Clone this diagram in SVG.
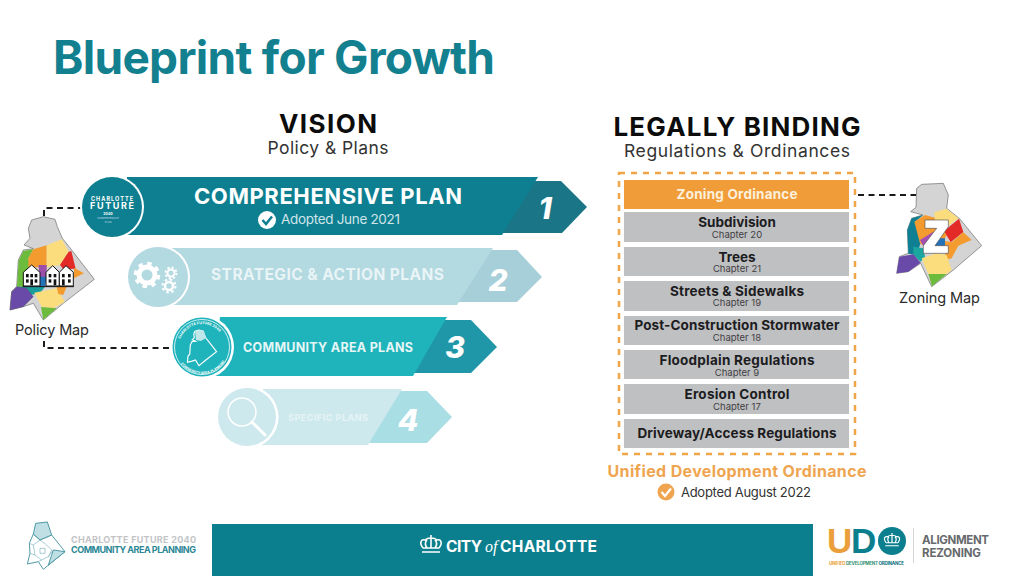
<svg xmlns="http://www.w3.org/2000/svg" width="1024" height="576" viewBox="0 0 1024 576">
<style>
text{font-family:Inter,"Open Sans","Liberation Sans",sans-serif}
.b{font-weight:700}
.m{text-anchor:middle}
.box{fill:#bfc0c2}
.bt{font-size:13.5px;font-weight:700;fill:#1c1c1e;text-anchor:middle}
.ch{font-size:9.5px;fill:#3f3f42;text-anchor:middle}
.num{font-size:30px;font-weight:800;font-style:italic;fill:#fff;text-anchor:middle}
.dash{fill:none;stroke:#1a1a1a;stroke-width:2;stroke-dasharray:6 4.5}
.o{stroke:#6a6a6a;stroke-width:2;stroke-linejoin:round}
.w{fill:#fff;text-anchor:middle;font-weight:700}
.win{fill:#111}
.logo{font-family:"Liberation Sans",sans-serif;font-weight:700;font-size:35px}
</style>
<defs>
<symbol id="crown" viewBox="0 0 24 20">
<path d="M4,13C0,8 2,4 6,5C7,4 10,3 12,3C14,3 17,4 18,5C22,4 24,8 20,13M4,13H20M3,17H21M8,13C6,10 6,7 8,5M16,13C18,10 18,7 16,5M12,13V3M12,3V0" fill="none" stroke="currentColor" stroke-width="1.6"/>
</symbol>
<path id="ringTop" d="M179,347a23,23 0 0 1 46,0"/>
<path id="ringBot" d="M175,347a27,27 0 0 0 54,0"/>
<path id="policyOutline" d="M95,150L130,140L165,148L172,170L187,205L215,240L283,328L190,400L130,450L100,400L70,410L30,420L35,365L50,350L55,270L70,240L100,236L72,225L90,205L85,175Z"/>
</defs>
<rect width="1024" height="576" fill="#fff"/>
<text id="title" x="53" y="74" class="b" font-size="46" fill="#13808f" textLength="442">Blueprint for Growth</text>

<g id="connectors">
<path class="dash" d="M44,216V208H82"/>
<path class="dash" d="M44,341V348H172"/>
<path class="dash" d="M858,195H916"/>
</g>

<g id="vision-heading">
<text x="328" y="133" class="b m" font-size="26" fill="#0c0c0c" textLength="98">VISION</text>
<text x="328" y="154" class="m" font-size="17.5" fill="#333" textLength="121">Policy &amp; Plans</text>
</g>

<g id="plan-1">
<polygon points="490,233 530,181 561,181 587,207 562,233" fill="#1a7686"/>
<polygon points="127,177 538,177 502,235 123,235" fill="#0e7f90"/>
<circle cx="112" cy="207" r="32" fill="#fff"/>
<circle cx="112" cy="207" r="30" fill="#0e7f90"/>
<text x="112" y="201" class="w" font-size="5.5" textLength="42">CHARLOTTE</text>
<text x="112" y="209" class="w" font-size="9" textLength="44">FUTURE</text>
<text x="108" y="215" class="w" font-size="3.5">2040</text>
<text x="108" y="219" class="m" font-size="2.5" fill="#cde">COMPREHENSIVE</text>
<text x="108" y="223" class="m" font-size="2.5" fill="#cde">PLAN</text>
<text x="328" y="204" class="w" font-size="22" textLength="268">COMPREHENSIVE PLAN</text>
<circle cx="267" cy="220" r="9" fill="#fff"/>
<path d="M262.500,220L266,224L272,216.500" fill="none" stroke="#0e7f90" stroke-width="2.500"/>
<text x="281" y="224" font-size="13.500" fill="#cfe5ea" textLength="119">Adopted June 2021</text>
<text x="545" y="219" class="num">1</text>
</g>

<g id="plan-2">
<polygon points="450,302 485,250 517,250 542,277 517,302" fill="#a7cfd9"/>
<polygon points="172,248 493,248 457,305 170,305" fill="#b3d9e1"/>
<circle cx="158" cy="277" r="32" fill="#fff"/>
<circle cx="158" cy="277" r="30" fill="#b3d9e1"/>
<g fill="none" stroke="#fff">
<circle cx="147" cy="275" r="8" stroke-width="5"/>
<circle cx="147" cy="275" r="11.500" stroke-width="3.500" stroke-dasharray="4.500 4.500"/>
<circle cx="171" cy="273" r="3.500" stroke-width="2"/>
<circle cx="171" cy="273" r="5.500" stroke-width="2" stroke-dasharray="2.200 2.100"/>
<circle cx="169" cy="286" r="4" stroke-width="2.500"/>
<circle cx="169" cy="286" r="6.500" stroke-width="2" stroke-dasharray="2.500 2.600"/>
</g>
<text x="327.500" y="280" class="b m" font-size="15.500" fill="#e9f4f6" textLength="233">STRATEGIC &amp; ACTION PLANS</text>
<text x="498" y="291" class="num">2</text>
</g>

<g id="plan-3">
<polygon points="404,373 439,320 471,320 497,347 471,373" fill="#1f97a8"/>
<polygon points="220,317 447,317 413,376 213,376" fill="#1fb3bb"/>
<circle cx="202" cy="347" r="32" fill="#fff"/>
<circle cx="202" cy="347" r="29.500" fill="#1fb3bb"/>
<circle cx="202" cy="347" r="27.500" fill="none" stroke="#fff" stroke-width=".8"/>
<use href="#policyOutline" transform="translate(184,314) scale(.115)" fill="none" stroke="#fff" stroke-width="10"/>
<path d="M195,331L200,330L204,331L206,338L201,341L196,340Z" fill="#bfe7ea"/>
<text font-size="3.600" class="b" fill="#fff"><textPath href="#ringTop" startOffset="8">CHARLOTTE FUTURE 2040</textPath></text>
<text font-size="3.400" class="b" fill="#fff"><textPath href="#ringBot" startOffset="18">COMMUNITY AREA PLANNING</textPath></text>
<text x="328" y="352" class="b m" font-size="12.500" fill="#e6f6f7" textLength="170">COMMUNITY AREA PLANS</text>
<text x="455" y="358" class="num">3</text>
</g>

<g id="plan-4">
<polygon points="360,443 394,391 427,391 452,417 427,443" fill="#a9dee4"/>
<polygon points="263,389 402,389 368,445 258,445" fill="#cde9ed"/>
<circle cx="247" cy="417" r="31.500" fill="#fff"/>
<circle cx="247" cy="417" r="29" fill="#cde9ed"/>
<circle cx="242" cy="412" r="14" fill="none" stroke="#fff" stroke-width="1.500"/>
<path d="M252,422L265,435" stroke="#fff" stroke-width="3" stroke-linecap="round"/>
<text x="328" y="421" class="b m" font-size="9" fill="#e6f4f6" textLength="80">SPECIFIC PLANS</text>
<text x="408" y="431" class="num">4</text>
</g>

<g id="policy-map" transform="translate(0,170) scale(.3333)">
<use href="#policyOutline" fill="#d4d4d4" class="o" stroke="#6a6a6a" stroke-width="2"/>
<path fill="#6cbb3c" d="M100,238L70,243L56,272L51,350H85L90,290L85,265Z"/>
<path fill="#f49b2f" d="M100,238L140,226L140,292H85V265Z"/>
<path fill="#fbdd7e" d="M140,226L186,208L206,245L180,285L140,292Z"/>
<path fill="#e42a26" d="M180,285L206,245L214,243L227,296L190,298Z"/>
<path fill="#f49b2f" d="M222,293L252,310L222,325Z"/>
<path fill="#9c4fa8" d="M115,285H140V322H120Z"/>
<path fill="#2472b8" d="M120,320H140L135,350H120Z"/>
<path fill="#1a9c9c" d="M50,350H135L120,370L90,375Z"/>
<path fill="#fbdd7e" d="M103,368L170,355L195,395L160,415L125,410Z"/>
<path fill="#f49b2f" d="M170,350H200L190,375L175,372Z"/>
<path fill="#6cbb3c" d="M123,411L170,415L130,449Z"/>
<path fill="#6a4aa8" stroke="#555" d="M30,420L35,365L50,350L80,355L100,380L70,410Z"/>
<g fill="#fff" stroke="#111" stroke-width="3">
<path d="M70,348V307L95,285L120,307V348Z"/>
<path d="M138,348V307L158,287L178,307V348Z"/>
<path d="M178,348V307L198,287L220,307V348Z"/>
</g>
<path d="M68,350H222" stroke="#111" stroke-width="3"/>
<g class="win">
<rect x="78" y="312" width="8" height="10"/><rect x="91" y="312" width="8" height="10"/><rect x="104" y="312" width="8" height="10"/>
<rect x="78" y="328" width="8" height="10"/><rect x="91" y="328" width="8" height="18"/><rect x="104" y="328" width="8" height="10"/>
<rect x="146" y="312" width="8" height="10"/><rect x="161" y="312" width="8" height="10"/><rect x="146" y="328" width="8" height="10"/><rect x="161" y="328" width="8" height="18"/>
<rect x="186" y="312" width="8" height="10"/><rect x="204" y="312" width="8" height="10"/><rect x="186" y="328" width="8" height="18"/><rect x="204" y="328" width="8" height="10"/>
</g>
</g>
<text id="policy-map-label" x="15" y="335" font-size="14.500" fill="#2a2a2a" textLength="74">Policy Map</text>

<g id="legal-heading">
<text x="737" y="136" class="b m" font-size="26" fill="#0c0c0c" textLength="247">LEGALLY BINDING</text>
<text x="737" y="157" class="m" font-size="17.500" fill="#333" textLength="226">Regulations &amp; Ordinances</text>
</g>

<rect id="udo-frame" x="619" y="173" width="236" height="281" fill="none" stroke="#f0a548" stroke-width="2.500" stroke-dasharray="6 6"/>

<g id="zoning-ordinance"><rect x="624" y="180" width="225" height="29" fill="#f09c38"/><text x="737" y="199" class="bt" style="fill:#fdf0dd" textLength="121">Zoning Ordinance</text></g>
<g id="subdivision"><rect class="box" x="624" y="212" width="225" height="30"/><text x="737" y="227" class="bt">Subdivision</text><text x="737" y="238" class="ch">Chapter 20</text></g>
<g id="trees"><rect class="box" x="624" y="247" width="225" height="29"/><text x="737" y="262" class="bt">Trees</text><text x="737" y="272" class="ch">Chapter 21</text></g>
<g id="streets"><rect class="box" x="624" y="281" width="225" height="30"/><text x="737" y="296" class="bt" textLength="134">Streets &amp; Sidewalks</text><text x="737" y="306" class="ch">Chapter 19</text></g>
<g id="stormwater"><rect class="box" x="624" y="316" width="225" height="29"/><text x="737" y="330" class="bt" textLength="205">Post-Construction Stormwater</text><text x="737" y="341" class="ch">Chapter 18</text></g>
<g id="floodplain"><rect class="box" x="624" y="350" width="225" height="29"/><text x="737" y="365" class="bt" textLength="155">Floodplain Regulations</text><text x="737" y="376" class="ch">Chapter 9</text></g>
<g id="erosion"><rect class="box" x="624" y="384" width="225" height="30"/><text x="737" y="399" class="bt" textLength="105">Erosion Control</text><text x="737" y="410" class="ch">Chapter 17</text></g>
<g id="driveway"><rect class="box" x="624" y="419" width="225" height="29"/><text x="737" y="438" class="bt" textLength="199">Driveway/Access Regulations</text></g>

<g id="udo-caption">
<text x="737" y="477" class="b m" font-size="16" fill="#efa550" textLength="259">Unified Development Ordinance</text>
<circle cx="666" cy="492" r="8.500" fill="#efa550"/>
<path d="M661.500,492L665,496L671,488.500" fill="none" stroke="#fff" stroke-width="2.200"/>
<text x="681" y="497" font-size="13" fill="#333" textLength="130">Adopted August 2022</text>
</g>

<g id="zoning-map" transform="translate(880,175) scale(.3333)">
<path class="o" fill="#d4d4d4" d="M110,40L125,28L190,25L205,60L200,100L238,130L305,212L220,285L155,335L122,265L85,290L50,295L58,245L85,235L82,165L95,130L128,120L110,115L92,110L108,97Z"/>
<path fill="#0f8094" d="M130,120L95,130L82,165L85,236L110,240L125,195L105,140Z"/>
<path fill="#f49b2f" d="M103,140L135,120L165,128L200,180L170,240L120,205Z"/>
<path fill="#fbdd7e" d="M163,112L199,101L236,130L205,152L165,135Z"/>
<path fill="#e42a26" d="M192,168L237,131L250,171L212,202Z"/>
<path fill="#f49b2f" d="M195,198L215,202L250,172L275,195L235,212L215,250L195,255Z"/>
<path fill="#a64fb0" d="M120,195L160,170L160,195L135,222Z"/>
<path fill="#2472b8" d="M160,190H195V218H150Z"/>
<path fill="#1ca6a0" d="M100,215L130,220L135,245L122,260L100,240Z"/>
<path fill="#fbdd7e" d="M125,250L170,235L200,240L215,285L200,297H145Z"/>
<path fill="#6cbb3c" d="M145,297H200L156,334Z"/>
<path fill="#6a4aa8" d="M50,295L58,245L100,238L122,263L85,290Z"/>
<path d="M135,135H205V155L165,212H205V235H130V212L170,160H135Z" fill="#fff" stroke="#555" stroke-width="2"/>
</g>
<text id="zoning-map-label" x="899" y="303" font-size="14.500" fill="#2a2a2a" textLength="81">Zoning Map</text>

<g id="footer-left">
<g transform="translate(0,510) scale(.3333)" stroke="#4f9aa6" stroke-width="3" stroke-linejoin="round">
<path d="M100,72L120,90L155,75L195,125L130,178L115,155L82,162L90,130L88,100Z" fill="#fff"/>
<path d="M107,40L142,36L155,75L120,90L100,72Z" fill="#bfdfe4"/>
<path d="M160,120L195,125L145,165Z" fill="#bfdfe4"/>
<path d="M100,105L120,90L140,105L155,120L145,140L125,150L105,135ZM120,115L135,115L135,130L120,130ZM88,100L100,105M145,140L160,120M105,135L90,130M125,150L115,155" fill="none" stroke-width="1.500"/>
</g>
<text x="71" y="543" class="b" font-size="9" fill="#c3c4c6" textLength="125">CHARLOTTE FUTURE 2040</text>
<text x="71" y="553" class="b" font-size="9" fill="#2b8795" textLength="125">COMMUNITY AREA PLANNING</text>
</g>

<g id="footer-band">
<rect x="212" y="524" width="601" height="52" fill="#0c7f8e"/>
<use href="#crown" x="419" y="535" width="24" height="20" color="#fff"/>
<text x="446" y="552" class="b" font-size="15.500" fill="#fff" textLength="36">CITY</text>
<text x="485" y="552" font-size="16" font-style="italic" fill="#fff" style="font-family:'Liberation Serif',serif">of</text>
<text x="500" y="552" class="b" font-size="15.500" fill="#fff" textLength="97">CHARLOTTE</text>
</g>

<g id="footer-udo">
<text x="827" y="553" class="logo" fill="#eb9f3c" textLength="25">U</text>
<text x="851" y="553" class="logo" fill="#0c7f8e" textLength="25">D</text>
<circle cx="892" cy="541" r="14" fill="#0c7f8e"/>
<use href="#crown" x="883" y="533" width="18" height="15" color="#fff"/>
<text x="829" y="565" font-size="4.500" class="b" fill="#0c6f7e" textLength="75"><tspan fill="#eb9f3c">UNIFIED</tspan> <tspan fill="#2f8f70">DEVELOPMENT</tspan> ORDINANCE</text>
<path d="M913.500,528V563" stroke="#d5d5d5"/>
<text x="922" y="544" class="b" font-size="11.500" fill="#666a6c" textLength="67">ALIGNMENT</text>
<text x="922" y="557" class="b" font-size="11.500" fill="#666a6c" textLength="59">REZONING</text>
</g>
</svg>
